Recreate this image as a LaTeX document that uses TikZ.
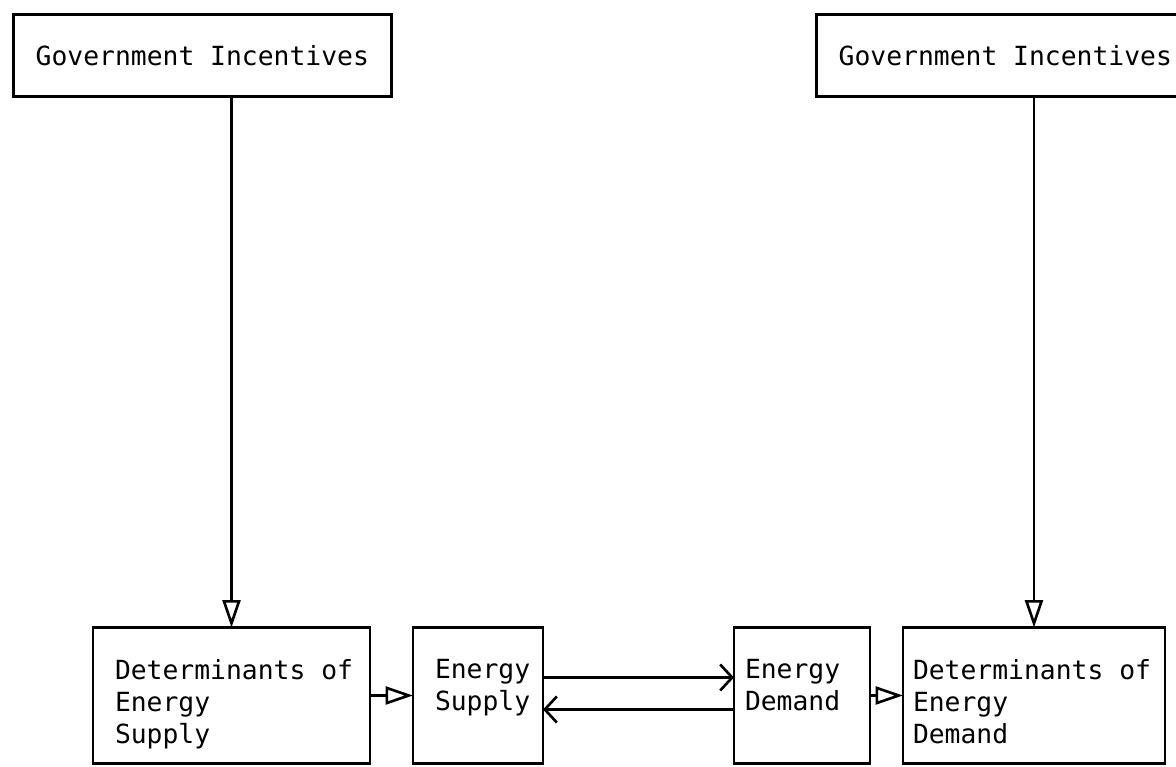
\documentclass[tikz,border=0pt]{standalone}
\usepackage{fontspec}
\setmonofont{DejaVu Sans Mono}
\usetikzlibrary{arrows.meta, positioning}

% text of a lower box: width, left inset, lines
\newcommand{\blocktext}[3]{\parbox[c][2.72cm][t]{#1}{\raggedright\leftskip=#2\relax\vspace*{0.64cm}#3}}

\begin{document}
\begin{tikzpicture}[
  >=Stealth,
  font=\ttfamily\fontsize{15}{18.2}\selectfont,
  line width=1.5pt,
  gov/.style={draw, minimum width=7.56cm, minimum height=1.64cm, inner sep=0pt},
  block/.style={draw, inner sep=0pt, outer sep=0pt},
  feed/.style={-{Triangle[open, length=5.5mm, width=3.6mm]}},
  flow/.style={-{Straight Barb[length=2.4mm, width=5.2mm]}}]
\useasboundingbox (0,0) rectangle (23.52,15.32);
\clip (0,0) rectangle (23.52,15.32);
\node[gov, anchor=north west] (govl) at (0.24,15.06) {Government Incentives};
\node[gov, anchor=north west] (govr) at (16.3,15.06) {Government Incentives};
\node[block, anchor=north west] (detsup) at (1.86,2.77) {\blocktext{5.54cm}{0.44cm}{Determinants of\\Energy\\Supply}};
\node[block, right=8.6mm of detsup] (supply) {\blocktext{2.6cm}{0.44cm}{Energy\\Supply}};
\node[block, right=38.2mm of supply] (demand) {\blocktext{2.72cm}{0.22cm}{Energy\\Demand}};
\node[block, right=6.6mm of demand] (detdem) {\blocktext{5.24cm}{0.2cm}{Determinants of\\Energy\\Demand}};
\draw[feed] (govl.south -| detsup.north) -- (detsup.north);
\draw[feed] (govr.south -| detdem.north) -- (detdem.north);
\draw[feed] (detsup) -- (supply);
\draw[flow] ([yshift=3.6mm]supply.east) -- ([yshift=3.6mm]demand.west);
\draw[flow] ([yshift=-2.8mm]demand.west) -- ([yshift=-2.8mm]supply.east);
\draw[feed] (demand) -- (detdem);
\end{tikzpicture}
\end{document}
